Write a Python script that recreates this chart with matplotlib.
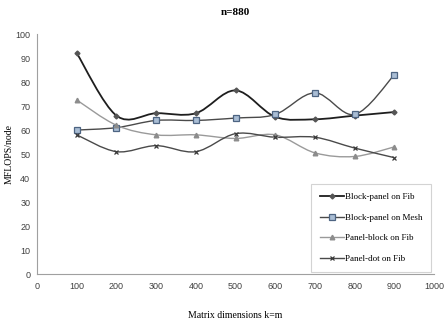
import numpy as np
import matplotlib
matplotlib.use("Agg")
import matplotlib.pyplot as plt
from matplotlib.path import Path
from matplotlib.patches import PathPatch
from matplotlib.lines import Line2D

sizes = [100, 200, 300, 400, 500, 600, 700, 800, 900]
block_panel_fib = [92, 66, 67, 67, 76.5, 65.5, 64.5, 66, 67.5]
block_panel_mesh = [60, 61, 64, 64, 65, 66.5, 75.5, 66.5, 83]
panel_block_fib = [72.5, 62, 58, 58, 56.5, 58, 50.5, 49, 53]
panel_dot_fib = [58, 51, 53.5, 51, 58.5, 57, 57, 52.5, 48.5]


def smooth_path(xs, ys, t=1 / 6):
    # Catmull-Rom -> cubic bezier, like Excel smoothed lines
    pts = np.column_stack([xs, ys]).astype(float)
    verts = [pts[0]]
    codes = [Path.MOVETO]
    n = len(pts)
    for i in range(n - 1):
        p0 = pts[i - 1] if i > 0 else pts[i]
        p1 = pts[i]
        p2 = pts[i + 1]
        p3 = pts[i + 2] if i + 2 < n else pts[i + 1]
        c1 = p1 + (p2 - p0) * t
        c2 = p2 - (p3 - p1) * t
        verts += [c1, c2, p2]
        codes += [Path.CURVE4] * 3
    return Path(verts, codes)


series = [
    ("Block-panel on Fib", block_panel_fib, "#1e1e1e", dict(marker="D", ms=2.5, mfc="#555555", mec="#555555"), 1.3),
    ("Block-panel on Mesh", block_panel_mesh, "#4a4a4a", dict(marker="s", ms=3.8, mfc="#a9bdd4", mec="#4d6482", mew=0.9), 1.0),
    ("Panel-block on Fib", panel_block_fib, "#9a9a9a", dict(marker="^", ms=3.3, mfc="#8c8c8c", mec="#8c8c8c"), 1.0),
    ("Panel-dot on Fib", panel_dot_fib, "#4a4a4a", dict(marker="x", ms=3.5, mec="#3a3a3a", mew=0.9), 1.0),
]

fig = plt.figure(figsize=(4.47, 3.24), dpi=100)
ax = fig.add_axes([0.083, 0.154, 0.888, 0.741])

handles = []
for name, vals, color, mk, lw in series:
    ax.add_patch(PathPatch(smooth_path(sizes, vals), facecolor="none", edgecolor=color, lw=lw, zorder=2))
    ax.plot(sizes, vals, linestyle="none", zorder=3, **mk)
    handles.append(Line2D([], [], color=color, lw=lw, **mk))

ax.set_xlim(0, 1000)
ax.set_ylim(0, 100)
ax.set_xticks(range(0, 1001, 100))
ax.set_yticks(range(0, 101, 10))
ax.tick_params(length=0, labelsize=6.5, colors="#404040")
ax.tick_params(axis="y", pad=5)
ax.tick_params(axis="x", pad=6)
for lab in ax.get_xticklabels() + ax.get_yticklabels():
    lab.set_family("Liberation Sans")
for side in ["top", "right"]:
    ax.spines[side].set_visible(False)
for side in ["left", "bottom"]:
    ax.spines[side].set_color("#a0a0a0")
    ax.spines[side].set_linewidth(0.8)

ax.set_title("n=880", fontsize=8, fontweight="bold", family="Liberation Serif", pad=14)
ax.set_xlabel("Matrix dimensions k=m", fontsize=7, family="Liberation Serif", labelpad=14)
ax.set_ylabel("MFLOPS/node", fontsize=7, family="Liberation Serif", labelpad=4)
ax.yaxis.set_label_coords(-0.058, 0.5)

leg = ax.legend(handles, [s[0] for s in series], loc="lower right", bbox_to_anchor=(0.993, 0.01),
                prop={"family": "Liberation Serif", "size": 6.5}, frameon=True, fancybox=False,
                handlelength=2.6, labelspacing=1.35, borderpad=1.0, handletextpad=0.1, borderaxespad=0)
leg.get_frame().set_edgecolor("#c8c8c8")
leg.get_frame().set_linewidth(0.8)

fig.savefig("out.png", dpi=100)
